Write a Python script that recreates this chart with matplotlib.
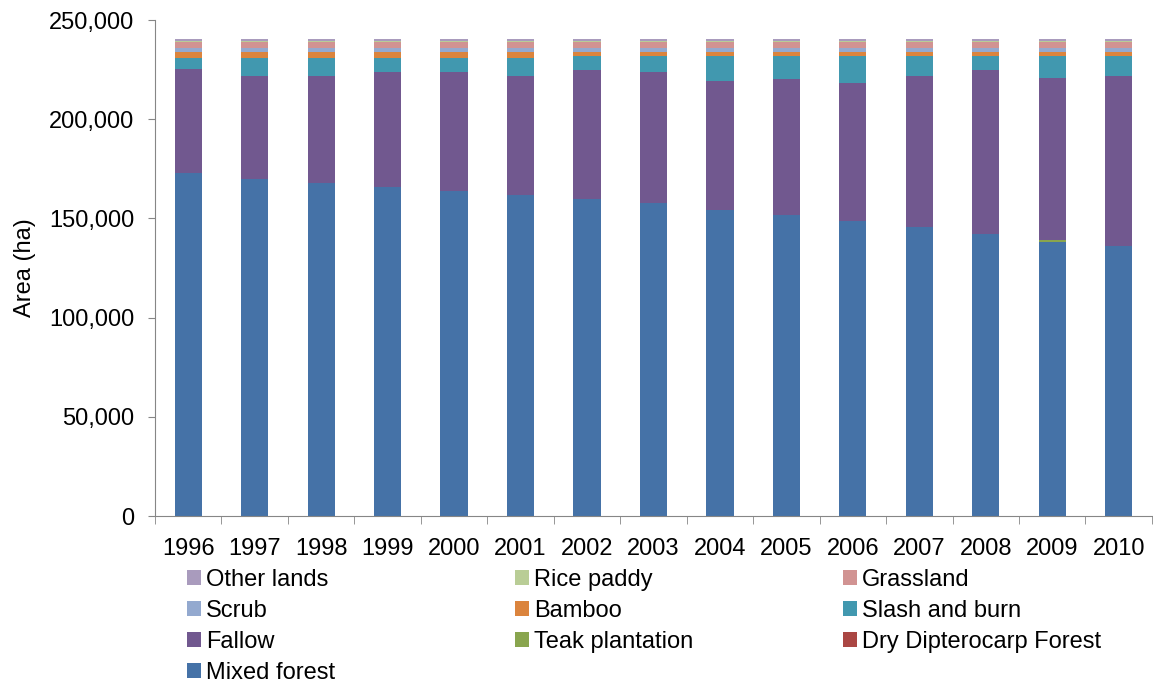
import numpy as np
import matplotlib.pyplot as plt
from matplotlib.patches import Patch
from matplotlib.ticker import FuncFormatter

plt.rcParams['font.family'] = ['Liberation Sans', 'DejaVu Sans']

years = ['1996', '1997', '1998', '1999', '2000', '2001', '2002', '2003',
         '2004', '2005', '2006', '2007', '2008', '2009', '2010']

# areas in ha (bottom to top)
mixed_forest = [172900, 170000, 168000, 166000, 164000, 162000, 160000, 158000,
                154000, 151500, 148500, 145500, 142000, 138000, 136000]
dry_dipterocarp = [0] * 15
teak_plantation = [0, 0, 0, 0, 0, 0, 0, 0, 0, 0, 0, 0, 0, 1000, 0]
fallow = [52200, 51900, 53900, 57900, 59900, 59900, 65000, 65900,
          65500, 68800, 69900, 76400, 83000, 82000, 85900]
slash_and_burn = [5900, 9100, 9100, 7100, 7100, 9100, 6840, 7940,
                  12340, 11540, 13440, 9940, 6840, 10840, 9940]
bamboo = [2700, 2700, 2700, 2700, 2700, 2700, 1850, 1850,
          1850, 1850, 1850, 1850, 1850, 1850, 1850]
scrub = [2350] * 15
grassland = [2850] * 15
rice_paddy = [300] * 15
other_lands = [1000] * 15

series = [
    ('Mixed forest', mixed_forest, '#4572A7'),
    ('Dry Dipterocarp Forest', dry_dipterocarp, '#AA4643'),
    ('Teak plantation', teak_plantation, '#89A54E'),
    ('Fallow', fallow, '#71588F'),
    ('Slash and burn', slash_and_burn, '#4198AF'),
    ('Bamboo', bamboo, '#DB843D'),
    ('Scrub', scrub, '#93A9CF'),
    ('Grassland', grassland, '#D19392'),
    ('Rice paddy', rice_paddy, '#B9CD96'),
    ('Other lands', other_lands, '#A99BBD'),
]

fs = 17
fig = plt.figure(figsize=(11.53, 6.86), dpi=100)
ax = fig.add_axes([0.1344, 0.2478, 0.8647, 0.723])

x = np.arange(len(years))
bottom = np.zeros(len(years))
colors = {}
for name, vals, col in series:
    vals = np.array(vals, dtype=float)
    ax.bar(x, vals, 0.41, bottom=bottom, color=col, linewidth=0)
    bottom += vals
    colors[name] = col

ax.set_xlim(-0.5, len(years) - 0.5)
ax.set_ylim(0, 250000)
ax.set_yticks(np.arange(0, 250001, 50000))
ax.yaxis.set_major_formatter(FuncFormatter(lambda v, p: f'{int(v):,}'))
ax.set_xticks(x)
ax.set_xticklabels(years)
ax.set_xticks(np.arange(-0.5, len(years)), minor=True)
ax.tick_params(axis='x', which='major', length=0, pad=16, labelsize=fs)
ax.tick_params(axis='x', which='minor', length=6, color='#868686')
ax.tick_params(axis='y', length=5, color='#868686', labelsize=fs, pad=10)
for s in ['top', 'right']:
    ax.spines[s].set_visible(False)
for s in ['left', 'bottom']:
    ax.spines[s].set_color('#868686')
ax.set_ylabel('Area (ha)', fontsize=fs, labelpad=9)

# legend laid out as three columns, filled row by row like the original
columns = [
    (0.162, ['Other lands', 'Scrub', 'Fallow', 'Mixed forest']),
    (0.4467, ['Rice paddy', 'Bamboo', 'Teak plantation']),
    (0.731, ['Grassland', 'Slash and burn', 'Dry Dipterocarp Forest']),
]
for xpos, names in columns:
    handles = [Patch(facecolor=colors[n], label=n) for n in names]
    fig.legend(handles=handles, loc='upper left', bbox_to_anchor=(xpos, 0.171),
               frameon=False, fontsize=fs, handlelength=0.6, handleheight=0.6,
               handletextpad=0.2, labelspacing=0.38, borderaxespad=0, borderpad=0)

fig.savefig('out.png', dpi=100)
